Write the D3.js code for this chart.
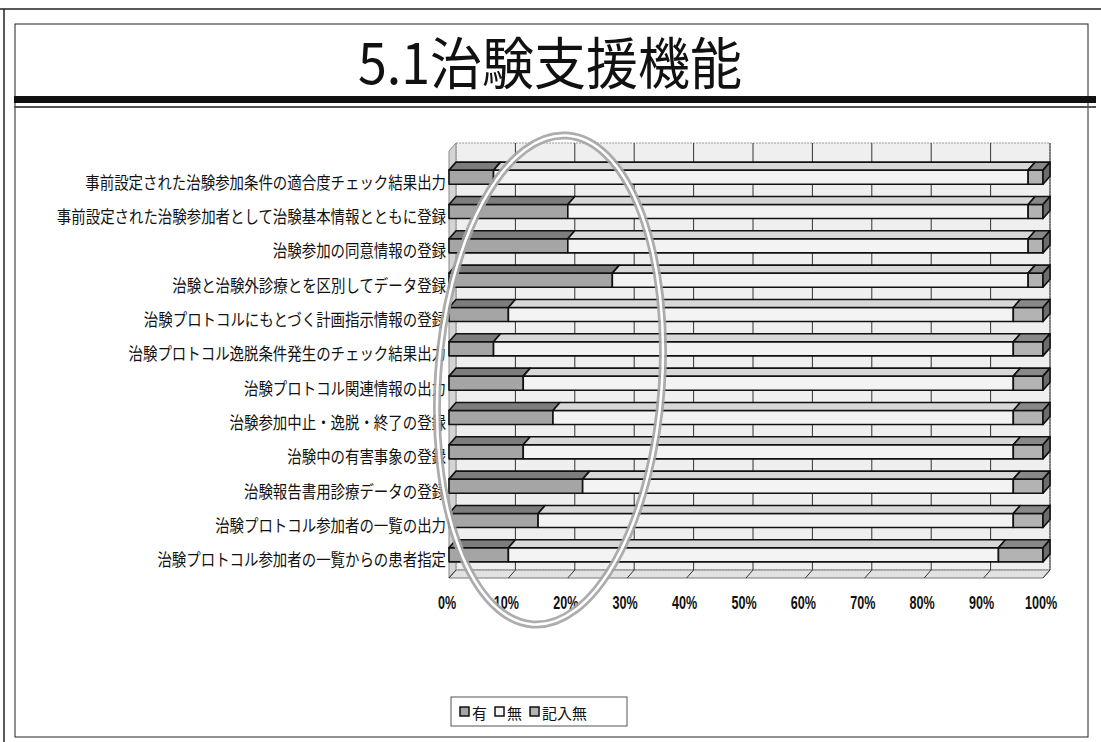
<!DOCTYPE html>
<html>
<head>
<meta charset="utf-8">
<script src="https://cdn.jsdelivr.net/npm/d3@7"></script>
<style>
  body { margin: 0; background: #fff; }
  #chart svg { display: block; }
</style>
</head>
<body>
<div id="chart"></div>
<script>
/* 3D-ish 100% stacked bars, 治験支援機能 survey (n = 40 per row) */

const title = "5.1治験支援機能";

const categories = [
  "事前設定された治験参加条件の適合度チェック結果出力",
  "事前設定された治験参加者として治験基本情報とともに登録",
  "治験参加の同意情報の登録",
  "治験と治験外診療とを区別してデータ登録",
  "治験プロトコルにもとづく計画指示情報の登録",
  "治験プロトコル逸脱条件発生のチェック結果出力",
  "治験プロトコル関連情報の出力",
  "治験参加中止・逸脱・終了の登録",
  "治験中の有害事象の登録",
  "治験報告書用診療データの登録",
  "治験プロトコル参加者の一覧の出力",
  "治験プロトコル参加者の一覧からの患者指定"
];

// counts (each row adds up to 40)
const yes   = [3, 8, 8, 11, 4, 3, 5, 7, 5, 9, 6, 4];
const no    = [36, 31, 31, 28, 34, 35, 33, 31, 33, 29, 32, 33];
const blank = [1, 1, 1, 1, 2, 2, 2, 2, 2, 2, 2, 3];

const seriesNames = ["有", "無", "記入無"];
const tickValues = [0, 0.1, 0.2, 0.3, 0.4, 0.5, 0.6, 0.7, 0.8, 0.9, 1];
const tickLabels = ["0%", "10%", "20%", "30%", "40%", "50%", "60%", "70%", "80%", "90%", "100%"];

const width = 1101,
      height = 742,
      depth = {dx: 7, dy: -8},      // how far the back of the box sits from the front
      wallTop = 143,
      floorFront = 578;

const frontFill = {"有": "#a5a5a5", "無": "#f3f3f3", "記入無": "#b3b3b3"};
const topFill   = {"有": "#7d7d7d", "無": "#d8d8d8", "記入無": "#888888"};
const sideFill  = "#6c6c6c";
const cjk = "'Noto Sans CJK JP', 'Noto Sans', sans-serif";

let data = categories.map((c, i) => ({cat: c, "有": yes[i], "無": no[i], "記入無": blank[i]}));
let stacked = d3.stack().keys(seriesNames).offset(d3.stackOffsetExpand)(data);

let svg = d3.select("#chart")
    .append("svg")
    .attr("width", width)
    .attr("height", height)
    .attr("viewBox", [0, 0, width, height]);

let x = d3.scaleLinear()
    .domain([0, 1])
    .range([449, 1043]);

let y = d3.scaleBand()
    .domain(categories)
    .range([160, 572])
    .paddingInner(0.59)
    .paddingOuter(0.295);

// ---- slide frame ----
const frame = svg.append("g").attr("fill", "none").attr("stroke", "#222");
frame.append("line").attr("x1", 0).attr("x2", width).attr("y1", 9).attr("y2", 9).attr("stroke-width", 1.5);
frame.append("line").attr("x1", 4).attr("x2", 4).attr("y1", 9).attr("y2", height).attr("stroke-width", 1.5);
frame.append("rect").attr("x", 15).attr("y", 24).attr("width", 1073).attr("height", 713).attr("stroke-width", 1);
frame.append("rect").attr("x", 14).attr("y", 96).attr("width", 1082).attr("height", 7).attr("fill", "#111").attr("stroke", "none");
frame.append("line").attr("x1", 14).attr("x2", 1096).attr("y1", 107).attr("y2", 107).attr("stroke", "#555").attr("stroke-width", 2);

// title, a bit taller like the slide font
svg.append("text")
    .attr("transform", "translate(550, 60) scale(1, 1.08)")
    .attr("text-anchor", "middle")
    .attr("dominant-baseline", "central")
    .attr("font-family", cjk)
    .attr("font-size", 52)
    .attr("fill", "#111")
    .text(title);

// ---- box: back wall, left wall, floor ----
const x0 = x(0), x1 = x(1), backBottom = floorFront + depth.dy;

svg.append("rect")
    .attr("x", x0 + depth.dx)
    .attr("y", wallTop)
    .attr("width", x1 - x0)
    .attr("height", backBottom - wallTop)
    .attr("fill", "#efefef")
    .attr("stroke", "#999")
    .attr("stroke-dasharray", "2,1");

svg.append("polygon")
    .attr("points", [[x0 + depth.dx, wallTop], [x0 + depth.dx, backBottom], [x0, floorFront], [x0, wallTop - depth.dy]].join(" "))
    .attr("fill", "#d4d4d4")
    .attr("stroke", "#888");

svg.append("polygon")
    .attr("points", [[x0 + depth.dx, backBottom], [x1 + depth.dx, backBottom], [x1, floorFront], [x0, floorFront]].join(" "))
    .attr("fill", "#e2e2e2")
    .attr("stroke", "#777");

// gridlines on the back wall + slanted lines across the floor
svg.append("g")
    .selectAll("line")
    .data(tickValues.slice(1))
    .join("line")
    .attr("x1", d => x(d) + depth.dx)
    .attr("x2", d => x(d) + depth.dx)
    .attr("y1", wallTop)
    .attr("y2", backBottom)
    .attr("stroke", "#333")
    .attr("stroke-width", 1);

svg.append("g")
    .selectAll("line")
    .data(tickValues)
    .join("line")
    .attr("x1", d => x(d) + depth.dx)
    .attr("x2", d => x(d))
    .attr("y1", backBottom)
    .attr("y2", floorFront)
    .attr("stroke", "#333")
    .attr("stroke-width", 1);

// ---- bars ----
let bars = svg.append("g")
    .attr("stroke", "#111")
    .attr("stroke-width", 1.6)
    .attr("stroke-linejoin", "round");

stacked.forEach((s, k) => {
  let g = bars.append("g").attr("class", "series");
  s.forEach(d => {
    const cat = d.data.cat,
          yt = y(cat),
          yb = y(cat) + y.bandwidth(),
          xa = x(d[0]),
          xb = x(d[1]);
    g.append("rect")
        .attr("x", xa)
        .attr("y", yt)
        .attr("width", xb - xa)
        .attr("height", yb - yt)
        .attr("fill", frontFill[s.key]);
    g.append("polygon")
        .attr("points", [[xa, yt], [xb, yt], [xb + depth.dx, yt + depth.dy], [xa + depth.dx, yt + depth.dy]].join(" "))
        .attr("fill", topFill[s.key]);
    if (k === stacked.length - 1) {
      g.append("polygon")
          .attr("points", [[xb, yt], [xb + depth.dx, yt + depth.dy], [xb + depth.dx, yb + depth.dy], [xb, yb]].join(" "))
          .attr("fill", sideFill);
    }
  });
});

// ---- category labels ----
svg.append("g")
    .selectAll("text")
    .data(categories)
    .join("text")
    .attr("transform", d => `translate(446, ${y(d) + y.bandwidth() / 2 + 4}) scale(0.95, 1.1)`)
    .attr("text-anchor", "end")
    .attr("dominant-baseline", "central")
    .attr("font-family", cjk)
    .attr("font-size", 15.2)
    .attr("fill", "#111")
    .text(d => d);

// ---- percent ticks (narrow bold, so squeeze them) ----
svg.append("g")
    .selectAll("text")
    .data(tickValues)
    .join("text")
    .attr("transform", d => `translate(${x(d) - 2}, 609) scale(0.7, 1)`)
    .attr("text-anchor", "middle")
    .attr("font-family", "'Liberation Sans', Arial, sans-serif")
    .attr("font-weight", "bold")
    .attr("font-size", 18)
    .attr("fill", "#111")
    .text((d, i) => tickLabels[i]);

// ---- legend ----
let legend = svg.append("g");
legend.append("rect")
    .attr("x", 451).attr("y", 697)
    .attr("width", 176).attr("height", 29)
    .attr("fill", "#fff")
    .attr("stroke", "#555");

let lx = 460;
seriesNames.forEach(name => {
  legend.append("rect")
      .attr("x", lx).attr("y", 707)
      .attr("width", 9).attr("height", 9)
      .attr("fill", frontFill[name])
      .attr("stroke", "#111")
      .attr("stroke-width", 1.5);
  let t = legend.append("text")
      .attr("x", lx + 12)
      .attr("y", 712)
      .attr("dominant-baseline", "central")
      .attr("font-family", cjk)
      .attr("font-size", 15)
      .attr("fill", "#111")
      .text(name);
  lx += 12 + t.node().getComputedTextLength() + 8;
});

// ---- hand drawn circle over the 0-30% area ----
let mark = svg.append("g")
    .attr("transform", `translate(${x(0.17)}, 380) rotate(4)`)
    .attr("fill", "none");
mark.append("ellipse")
    .attr("rx", 112).attr("ry", 245)
    .attr("stroke", "#a4a4a4")
    .attr("stroke-width", 8)
    .attr("opacity", 0.9);
mark.append("ellipse")
    .attr("rx", 112).attr("ry", 245)
    .attr("stroke", "#fff")
    .attr("stroke-width", 2.5);
</script>
</body>
</html>
